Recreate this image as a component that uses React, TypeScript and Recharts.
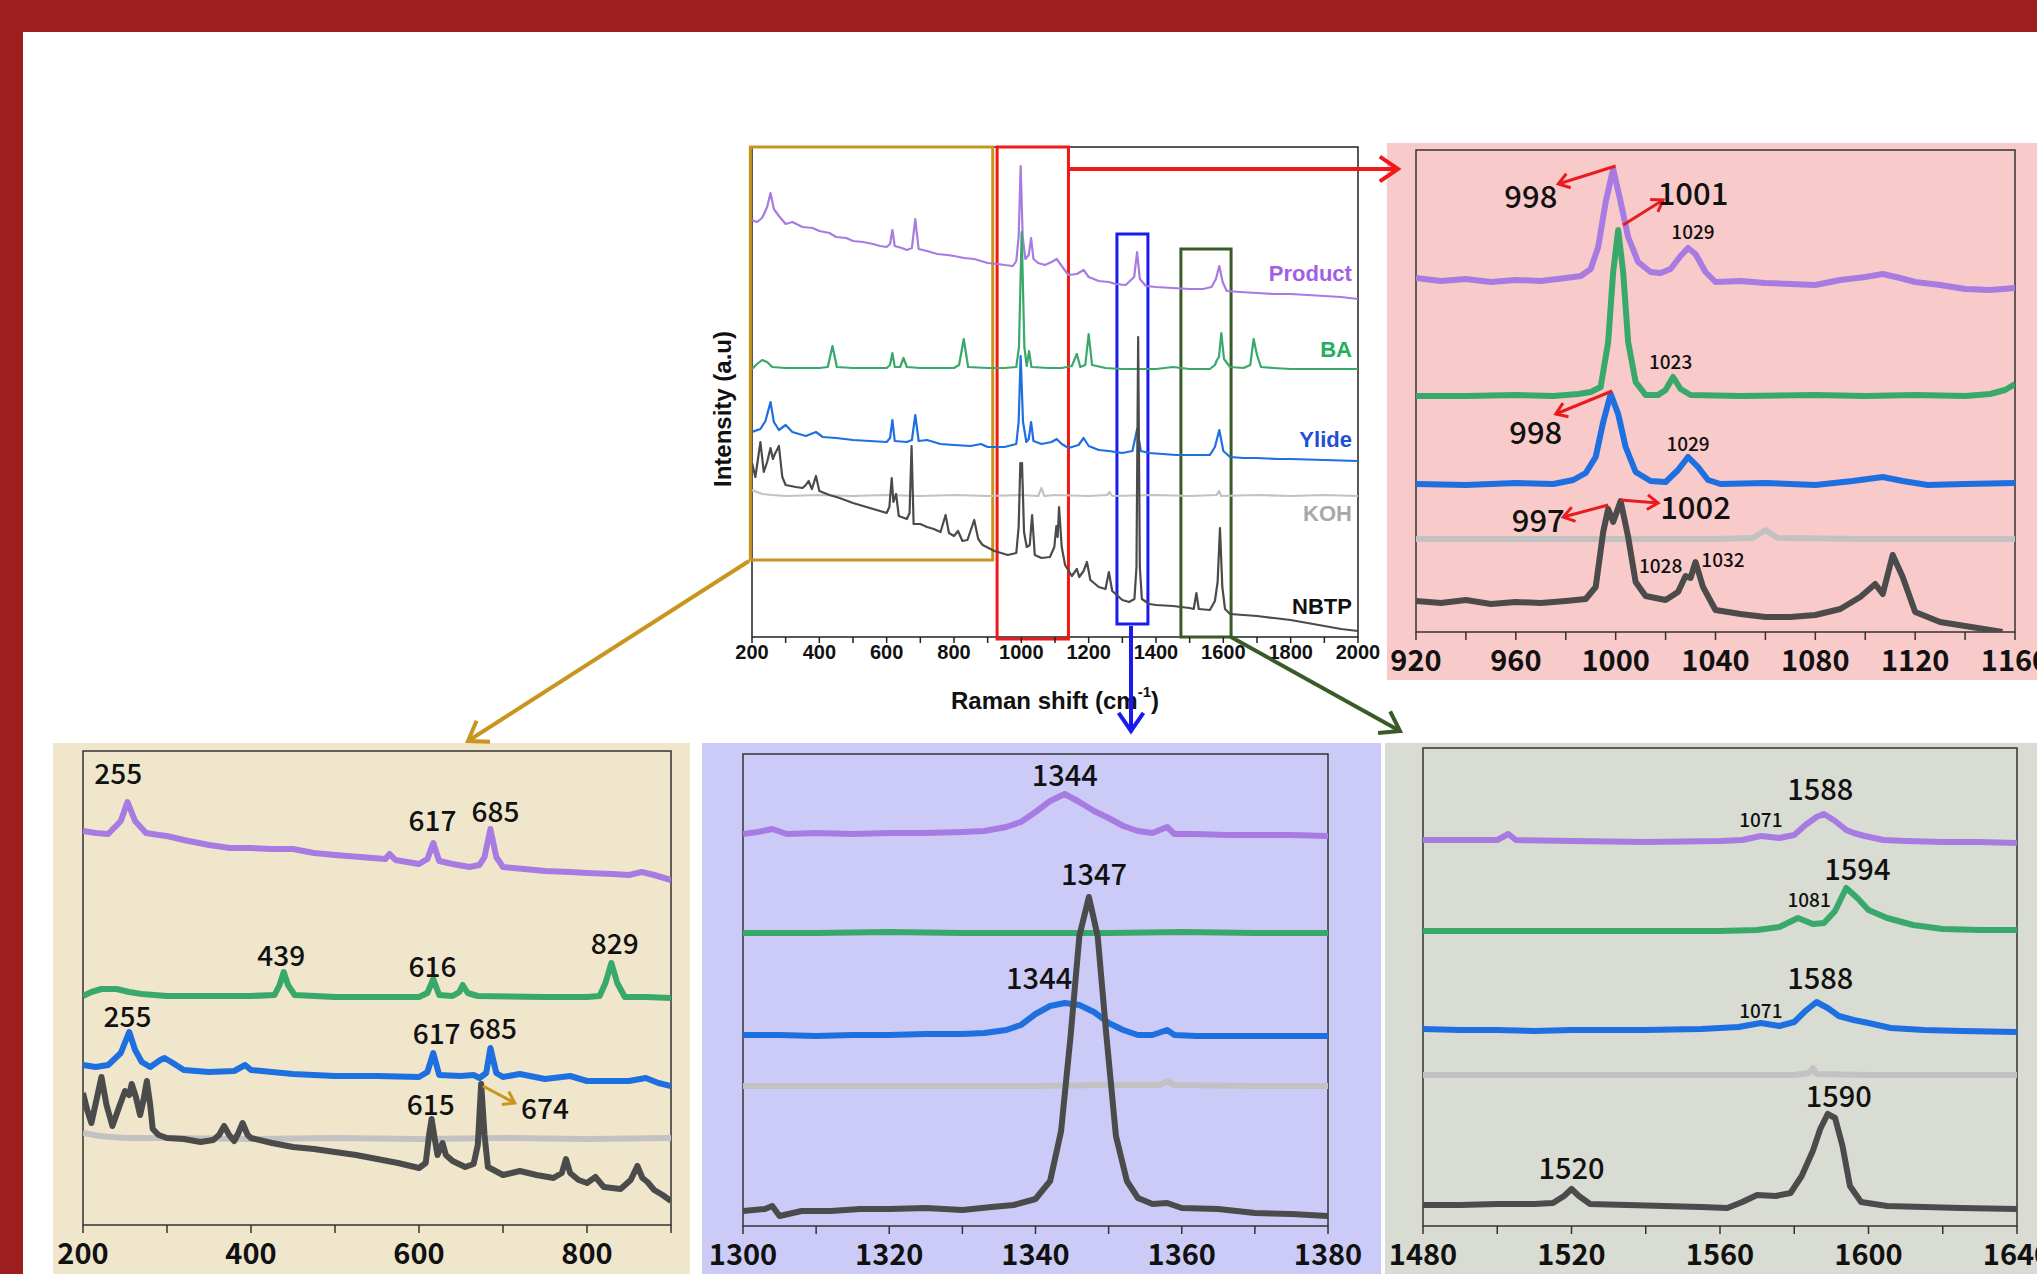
import React from 'react';
import { LineChart, Line, XAxis, YAxis, ReferenceArea, ReferenceDot, ReferenceLine } from 'recharts';

type Pt = [number, number];
type Note = [number, number, string];
type Seg = [Pt, Pt];

// ---- overview spectrum (200-2000 cm-1), intensity in arbitrary units ----
const mainProduct: Pt[] = [[200,417],[215,415],[230,419],[245,430],[255,444],[265,428],[280,421],[300,413],[320,415],[350,410],[380,409],[400,406],[430,404],[450,400],[480,399],[500,396],[530,395],[560,393],[580,391],[600,390],[610,393],[617,407],[624,391],[645,389],[660,387],[675,389],[685,418],[695,388],[720,386],[750,383],[780,382],[800,381],[830,379],[860,378],[880,376],[900,374],[930,373],[950,372],[975,371],[985,376],[992,400],[998,471],[1004,400],[1012,378],[1022,382],[1029,399],[1036,378],[1050,374],[1070,372],[1090,375],[1105,378],[1120,371],[1140,362],[1165,363],[1185,367],[1200,360],[1230,356],[1260,355],[1280,353],[1310,352],[1335,360],[1344,385],[1352,358],[1370,351],[1400,350],[1450,349],[1500,348],[1540,348],[1565,350],[1578,358],[1588,371],[1598,355],[1610,346],[1650,345],[1700,344],[1750,343],[1800,343],[1850,342],[1900,341],[1950,340],[2000,338]];
const mainBA: Pt[] = [[200,268],[215,273],[230,277],[245,275],[260,270],[300,269],[350,269],[400,269],[425,270],[439,291],[452,270],[500,269],[550,269],[600,269],[610,272],[617,284],[624,270],[640,270],[650,279],[660,270],[700,269],[750,269],[800,269],[815,272],[829,298],[842,270],[900,269],[950,269],[985,270],[993,290],[1001,405],[1009,290],[1016,271],[1023,286],[1030,270],[1080,269],[1120,269],[1150,271],[1165,283],[1175,270],[1190,272],[1200,303],[1210,272],[1250,269],[1300,268],[1350,268],[1400,268],[1450,270],[1500,268],[1560,268],[1575,272],[1581,277],[1587,280],[1594,304],[1602,278],[1620,270],[1660,269],[1680,272],[1690,298],[1700,282],[1712,270],[1750,269],[1800,268],[1900,268],[2000,268]];
const mainYlide: Pt[] = [[200,205],[225,208],[240,216],[255,235],[265,215],[280,207],[300,212],[320,205],[360,201],[390,205],[410,200],[450,199],[500,197],[550,196],[600,195],[610,199],[617,217],[624,196],[660,195],[675,197],[685,222],[695,196],[720,197],[760,193],[800,192],[850,191],[880,193],[900,190],[950,190],[985,193],[992,215],[998,281],[1005,215],[1015,195],[1022,198],[1029,215],[1036,196],[1060,193],[1090,195],[1105,198],[1120,193],[1140,189],[1170,192],[1185,199],[1200,191],[1230,187],[1260,186],[1300,184],[1330,186],[1344,208],[1355,186],[1380,184],[1420,183],[1460,182],[1500,182],[1560,182],[1575,190],[1588,207],[1600,186],[1620,180],[1660,179],[1700,179],[1760,178],[1800,178],[1900,177],[2000,176]];
const mainKOH: Pt[] = [[200,147],[230,143],[260,142],[300,141],[400,142],[500,141],[600,142],[700,141],[800,142],[900,141],[1000,142],[1050,141],[1060,149],[1068,141],[1100,142],[1200,141],[1255,142],[1262,145],[1270,141],[1400,142],[1500,141],[1580,142],[1587,146],[1594,141],[1700,142],[1800,141],[1900,142],[2000,141]];
const mainNBTP: Pt[] = [[200,174],[210,160],[225,195],[235,165],[245,175],[255,189],[262,178],[268,183],[280,191],[290,160],[300,152],[330,150],[350,149],[360,152],[368,156],[378,148],[390,161],[400,146],[430,142],[460,139],[500,134],[530,131],[560,128],[600,124],[608,130],[615,159],[620,135],[628,143],[636,121],[660,118],[668,124],[674,191],[680,113],[700,113],[720,110],[740,108],[760,105],[775,122],[785,104],[800,101],[812,106],[825,96],[840,97],[860,117],[872,98],[885,92],[920,86],[960,82],[985,84],[992,110],[997,174],[1000,160],[1002,174],[1008,105],[1016,90],[1025,92],[1032,122],[1040,82],[1060,79],[1085,80],[1098,90],[1104,111],[1108,100],[1112,130],[1120,90],[1130,72],[1150,61],[1165,68],[1172,60],[1185,66],[1195,75],[1205,57],[1230,50],[1250,48],[1260,65],[1270,46],[1300,37],[1320,35],[1336,38],[1342,70],[1347,300],[1352,70],[1358,38],[1380,33],[1400,32],[1450,31],[1500,29],[1512,28],[1520,44],[1527,28],[1560,27],[1575,36],[1583,55],[1590,109],[1597,50],[1605,28],[1620,23],[1660,22],[1700,21],[1750,19],[1800,17],[1850,14],[1900,11],[1950,8],[2000,6]];
const mainNames = ['Product', 'BA', 'Ylide', 'KOH', 'NBTP'];
const mainNameY = [364, 288, 198, 124, 31];
const mainTicks = [200,300,400,500,600,700,800,900,1000,1100,1200,1300,1400,1500,1600,1700,1800,1900,2000];

// zoom windows marked on the overview: [x1, x2, y1, y2]
const zoomBoxes: [number, number, number, number, string][] = [
  [195, 915, 77, 490, '#c8961e'],
  [928, 1140, -2, 490, '#f01818'],
  [1284, 1376, 13, 403, '#1a1af0'],
  [1474, 1623, 0, 388, '#3a5a28'],
];

// ---- 920-1160 window ----
const w1Product: Pt[] = [[920,354],[930,351],[940,353],[950,350],[960,352],[970,351],[980,354],[986,356],[990,363],[993,385],[996,430],[999,463],[1002,430],[1005,395],[1009,370],[1014,360],[1018,359],[1022,363],[1026,376],[1029,384],[1032,378],[1036,360],[1040,350],[1050,351],[1060,349],[1070,348],[1080,347],[1090,352],[1100,355],[1107,358],[1114,354],[1120,350],[1130,347],[1140,343],[1150,342],[1160,344]];
const w1BA: Pt[] = [[920,236],[940,236],[960,237],[975,236],[985,238],[990,240],[994,245],[997,290],[999,360],[1001,402],[1003,360],[1005,290],[1008,250],[1012,237],[1017,237],[1020,242],[1023,255],[1026,243],[1030,237],[1050,236],[1080,237],[1100,236],[1120,237],[1140,236],[1150,238],[1156,242],[1160,248]];
const w1Ylide: Pt[] = [[920,148],[940,147],[960,149],[975,148],[983,152],[988,159],[992,175],[995,210],[998,238],[1001,218],[1004,185],[1008,160],[1014,151],[1020,150],[1025,162],[1029,175],[1033,165],[1037,152],[1042,148],[1060,149],[1080,147],[1095,151],[1107,155],[1115,151],[1125,147],[1140,148],[1160,149]];
const w1KOH: Pt[] = [[920,93],[960,93],[1000,93],[1040,93],[1055,94],[1060,102],[1065,94],[1100,93],[1160,93]];
const w1NBTP: Pt[] = [[920,31],[930,29],[940,32],[950,28],[960,30],[970,29],[980,31],[988,33],[992,45],[995,100],[997,123],[999,110],[1002,131],[1005,95],[1008,50],[1012,36],[1020,32],[1025,40],[1028,56],[1030,54],[1032,70],[1035,45],[1040,22],[1050,18],[1060,15],[1070,15],[1080,17],[1090,23],[1098,35],[1104,48],[1107,38],[1111,77],[1115,55],[1120,20],[1130,10],[1140,6],[1150,2],[1155,0]];
const w1Big: Note[] = [[966,438,'998'],[1031,441,'1001'],[968,202,'998'],[969,114,'997'],[1032,127,'1002']];
const w1Small: Note[] = [[1031,402,'1029'],[1022,272,'1023'],[1029,190,'1029'],[1018,68,'1028'],[1043,74,'1032']];
const w1Arrows: Seg[] = [[[1000,466],[977,448]],[[1003,407],[1019,432]],[[998.6,241],[976,218]],[[997,127],[979,115]],[[1002,132],[1017,129]]];
const w1Ticks = [920,940,960,980,1000,1020,1040,1060,1080,1100,1120,1140,1160];

// ---- 200-900 window ----
const w2Product: Pt[] = [[200,394],[215,392],[230,391],[245,404],[253,423],[262,404],[275,392],[290,390],[300,389],[320,385],[350,380],[375,377],[400,377],[425,376],[450,376],[475,372],[500,370],[530,368],[560,366],[565,371],[572,365],[600,361],[610,366],[617,382],[624,364],[640,361],[660,358],[672,360],[678,368],[685,396],[692,368],[700,358],[725,356],[750,354],[780,353],[800,352],[830,351],[850,350],[865,353],[880,350],[900,345]];
const w2BA: Pt[] = [[200,229],[210,233],[222,236],[240,236],[255,233],[270,231],[300,229],[350,229],[400,229],[428,230],[434,240],[439,253],[444,240],[452,230],[500,228],[550,228],[600,228],[610,232],[617,246],[624,230],[640,229],[648,233],[652,240],[658,232],[670,229],[750,228],[800,228],[815,229],[822,242],[829,262],[836,242],[845,228],[870,228],[900,227]];
const w2Ylide: Pt[] = [[200,160],[215,158],[230,160],[245,172],[255,193],[262,175],[270,163],[280,158],[292,165],[297,167],[305,163],[320,155],[350,153],[380,154],[393,160],[400,155],[450,151],[500,149],[550,149],[600,148],[610,153],[617,172],[624,150],[650,149],[665,150],[672,147],[680,152],[685,177],[692,152],[700,148],[720,151],[750,146],[780,149],[800,144],[850,144],[870,147],[885,142],[900,139]];
const w2KOH: Pt[] = [[200,92],[220,89],[250,87],[300,87],[400,86],[500,87],[600,86],[700,87],[800,86],[900,87]];
const w2NBTP: Pt[] = [[200,132],[205,115],[210,102],[216,125],[222,148],[228,120],[235,99],[243,118],[250,134],[255,130],[258,141],[263,128],[268,110],[272,125],[276,144],[280,120],[283,96],[290,90],[300,87],[320,86],[340,83],[355,85],[362,90],[368,99],[374,90],[380,84],[385,92],[390,102],[396,90],[400,87],[425,82],[450,78],[475,76],[500,73],[525,70],[550,66],[575,62],[600,57],[608,62],[612,90],[615,106],[618,90],[622,70],[626,78],[628,82],[632,70],[640,64],[655,58],[665,61],[670,80],[674,141],[678,90],[682,58],[700,50],[720,54],[740,50],[760,47],[770,52],[775,66],[780,52],[790,45],[800,42],[810,48],[820,38],[840,36],[852,45],[860,59],[866,47],[872,43],[880,35],[890,30],[900,24]];
const w2Big: Note[] = [[242,453,'255'],[616,406,'617'],[691,415,'685'],[436,271,'439'],[616,260,'616'],[833,283,'829'],[253,210,'255'],[621,193,'617'],[688,198,'685'],[614,122,'615'],[750,118,'674']];
const w2Arrows: Seg[] = [[[676,139],[714,122]]];
const w2Ticks = [200,300,400,500,600,700,800,900];

// ---- 1300-1380 window ----
const w3Product: Pt[] = [[1300,392],[1302,394],[1304,397],[1306,392],[1310,393],[1315,392],[1320,393],[1325,393],[1330,394],[1333,395],[1336,399],[1338,404],[1340,414],[1342,425],[1344,432],[1346,424],[1348,415],[1350,408],[1352,400],[1354,395],[1356,393],[1358,399],[1359,392],[1362,392],[1366,391],[1370,391],[1375,391],[1380,390]];
const w3BA: Pt[] = [[1300,293],[1310,293],[1320,294],[1330,293],[1340,293],[1350,293],[1360,294],[1370,293],[1380,293]];
const w3Ylide: Pt[] = [[1300,191],[1305,191],[1310,190],[1315,191],[1320,191],[1325,192],[1330,192],[1333,193],[1336,196],[1338,201],[1340,212],[1342,220],[1344,223],[1346,221],[1348,214],[1350,203],[1352,196],[1354,191],[1356,191],[1358,196],[1359,191],[1362,190],[1370,190],[1375,190],[1380,190]];
const w3KOH: Pt[] = [[1300,140],[1320,140],[1340,140],[1350,141],[1357,141],[1358,145],[1359,141],[1370,140],[1380,140]];
const w3NBTP: Pt[] = [[1300,15],[1303,17],[1304,20],[1305,10],[1308,15],[1312,15],[1316,17],[1320,17],[1325,18],[1330,16],[1334,19],[1337,21],[1340,27],[1342,45],[1343.5,95],[1344.8,190],[1346,290],[1347.3,329],[1348.5,290],[1349.7,190],[1351,90],[1352.5,45],[1354,28],[1356,22],[1358,23],[1360,18],[1365,17],[1370,13],[1375,12],[1380,10]];
const w3Big: Note[] = [[1344,453,'1344'],[1348,354,'1347'],[1340.5,250,'1344']];
const w3Ticks = [1300,1310,1320,1330,1340,1350,1360,1370,1380];

// ---- 1480-1640 window ----
const w4Product: Pt[] = [[1480,386],[1490,386],[1500,386],[1503,392],[1505,386],[1520,385],[1540,384],[1560,385],[1566,386],[1571,390],[1576,388],[1580,391],[1583,401],[1586,409],[1588,412],[1591,405],[1594,396],[1596,393],[1599,390],[1604,386],[1610,385],[1620,384],[1630,384],[1640,383]];
const w4BA: Pt[] = [[1480,295],[1500,295],[1520,295],[1540,295],[1560,295],[1570,296],[1576,299],[1581,308],[1585,302],[1588,303],[1591,315],[1594,338],[1597,328],[1600,316],[1605,308],[1612,301],[1620,297],[1630,296],[1640,296]];
const w4Ylide: Pt[] = [[1480,197],[1490,196],[1500,196],[1510,195],[1520,196],[1540,196],[1555,197],[1565,199],[1571,203],[1576,200],[1580,204],[1583,215],[1586,224],[1589,218],[1592,210],[1596,206],[1600,203],[1606,198],[1615,196],[1625,195],[1640,194]];
const w4KOH: Pt[] = [[1480,151],[1500,151],[1520,151],[1540,151],[1560,151],[1580,151],[1584,153],[1585,158],[1586,152],[1600,151],[1620,151],[1640,151]];
const w4NBTP: Pt[] = [[1480,21],[1490,21],[1500,22],[1510,22],[1515,23],[1518,30],[1520,37],[1522,30],[1525,22],[1535,21],[1545,20],[1555,19],[1562,18],[1566,24],[1570,31],[1575,30],[1579,33],[1582,50],[1585,75],[1587,97],[1589,112],[1591,108],[1593,80],[1595,40],[1598,24],[1605,20],[1615,19],[1625,18],[1640,17]];
const w4Big: Note[] = [[1587,439,'1588'],[1597,359,'1594'],[1587,250,'1588'],[1592,132,'1590'],[1520,60,'1520']];
const w4Small: Note[] = [[1571,408,'1071'],[1584,328,'1081'],[1571,217,'1071']];
const w4Ticks = [1480,1500,1520,1540,1560,1580,1600,1620,1640];

const COLORS = ['#a77be2', '#38a96a', '#1e6fe0', '#c2c2c2', '#4b4b4b'];
const LABEL_COLORS = ['#a45ee5', '#22b060', '#1f4fd6', '#a8a8a8', '#111111'];
const ARIAL = '"Liberation Sans", Arial, sans-serif';
const KR = '"Noto Sans CJK KR", "Noto Sans", sans-serif';

const rows = (pts: Pt[]) => pts.map(([x, y]) => ({ x, y }));

const textShape = (t: string, size: number, weight: number, family: string, fill = '#111', anchor = 'middle') => (p: any) => (
  <text x={p.cx} y={p.cy} textAnchor={anchor} dominantBaseline="central" fontSize={size} fontWeight={weight} fontFamily={family} fill={fill}>{t}</text>
);

const arrowShape = (color: string, w: number, head: number) => (p: any) => {
  const { x1, y1, x2, y2 } = p;
  const a = Math.atan2(y2 - y1, x2 - x1);
  const h1 = `${x2 - head * Math.cos(a - 0.6)},${y2 - head * Math.sin(a - 0.6)}`;
  const h2 = `${x2 - head * Math.cos(a + 0.6)},${y2 - head * Math.sin(a + 0.6)}`;
  return (
    <g>
      <line x1={x1} y1={y1} x2={x2} y2={y2} stroke={color} strokeWidth={w} />
      <polyline points={`${h1} ${x2},${y2} ${h2}`} fill="none" stroke={color} strokeWidth={w} strokeLinejoin="miter" />
    </g>
  );
};

interface WinProps {
  left: number; top: number; width: number; height: number; bg: string;
  plot: [number, number, number, number]; // page coords l, t, r, b
  xDomain: [number, number]; ticks: number[]; major: number;
  series: Pt[][]; big: Note[]; small?: Note[]; arrows?: Seg[]; arrowColor?: string;
  bigSize: number; smallSize?: number;
}

function ZoomWindow(p: WinProps) {
  const [pl, pt, pr, pb] = p.plot;
  const yMax = pb - pt;
  const axisH = 45;
  const margin = { left: pl - p.left, top: pt - p.top, right: p.left + p.width - pr, bottom: p.top + p.height - pb - axisH };
  return (
    <div style={{ position: 'absolute', left: p.left, top: p.top, width: p.width, height: p.height, background: p.bg }}>
      <LineChart width={p.width} height={p.height} margin={margin}>
        <XAxis dataKey="x" type="number" domain={p.xDomain} ticks={p.ticks} interval={0} allowDataOverflow
          height={axisH} tickSize={8} tickMargin={10} axisLine={false}
          tickLine={{ stroke: '#333', strokeWidth: 1.5 }}
          tickFormatter={(v: number) => ((v - p.xDomain[0]) % p.major === 0 ? String(v) : '')}
          tick={{ fill: '#111', fontSize: 29, fontWeight: 700, fontFamily: KR }} />
        <YAxis type="number" domain={[0, yMax]} hide allowDataOverflow />
        {p.series.map((s, i) => (
          <Line key={i} data={rows(s)} dataKey="y" type="linear" stroke={COLORS[i]} strokeWidth={6}
            strokeLinejoin="round" dot={false} activeDot={false} isAnimationActive={false} />
        ))}
        <ReferenceArea x1={p.xDomain[0]} x2={p.xDomain[1]} y1={0} y2={yMax} fill="none" stroke="#333" strokeWidth={1.5} ifOverflow="visible" />
        {(p.arrows || []).map((a, i) => (
          <ReferenceLine key={'a' + i} segment={[{ x: a[0][0], y: a[0][1] }, { x: a[1][0], y: a[1][1] }]} ifOverflow="visible"
            shape={arrowShape(p.arrowColor || '#e81c1c', 3, 13)} />
        ))}
        {p.big.map((n, i) => (
          <ReferenceDot key={'b' + i} x={n[0]} y={n[1]} r={1} ifOverflow="visible" shape={textShape(n[2], p.bigSize, 500, KR)} />
        ))}
        {(p.small || []).map((n, i) => (
          <ReferenceDot key={'s' + i} x={n[0]} y={n[1]} r={1} ifOverflow="visible" shape={textShape(n[2], p.smallSize || 19, 500, KR)} />
        ))}
      </LineChart>
    </div>
  );
}

function Overview() {
  const left = 690, top = 120, width = 700, height = 600;
  const series = [mainProduct, mainBA, mainYlide, mainKOH, mainNBTP];
  return (
    <div style={{ position: 'absolute', left, top, width, height }}>
      <LineChart width={width} height={height} margin={{ left: 2, top: 27, right: 32, bottom: 13 }}>
        <XAxis dataKey="x" type="number" domain={[200, 2000]} ticks={mainTicks} interval={0} allowDataOverflow
          height={70} tickSize={6} tickMargin={2} axisLine={false}
          tickLine={{ stroke: '#222', strokeWidth: 1.5 }}
          tickFormatter={(v: number) => (v % 200 === 0 ? String(v) : '')}
          tick={{ fill: '#111', fontSize: 20, fontWeight: 700, fontFamily: ARIAL }}
          label={{
            content: (lp: any) => {
              const vb = lp.viewBox;
              return (
                <text x={vb.x + vb.width / 2} y={vb.y + 63} textAnchor="middle" dominantBaseline="central"
                  fontSize={24} fontWeight={700} fontFamily={ARIAL} fill="#111">
                  Raman shift (cm<tspan dy={-9} fontSize={15}>-1</tspan><tspan dy={9} fontSize={24}>)</tspan>
                </text>
              );
            },
          }} />
        <YAxis type="number" domain={[0, 490]} width={60} tick={false} tickLine={false} axisLine={false} allowDataOverflow
          label={{
            content: (lp: any) => {
              const vb = lp.viewBox;
              const cx = vb.x + vb.width / 2;
              const cy = vb.y + vb.height / 2 + 17;
              return (
                <text x={cx} y={cy} transform={`rotate(-90 ${cx} ${cy})`} textAnchor="middle" dominantBaseline="central"
                  fontSize={24} fontWeight={700} fontFamily={ARIAL} fill="#111">Intensity (a.u)</text>
              );
            },
          }} />
        {series.map((s, i) => (
          <Line key={i} data={rows(s)} dataKey="y" type="linear" stroke={COLORS[i]} strokeWidth={2.2}
            strokeLinejoin="round" dot={false} activeDot={false} isAnimationActive={false} />
        ))}
        <ReferenceArea x1={200} x2={2000} y1={0} y2={490} fill="none" stroke="#222" strokeWidth={1.5} ifOverflow="visible" />
        {zoomBoxes.map((b, i) => (
          <ReferenceArea key={'z' + i} x1={b[0]} x2={b[1]} y1={b[2]} y2={b[3]} fill="none" stroke={b[4]} strokeWidth={3} ifOverflow="visible" />
        ))}
        {mainNames.map((n, i) => (
          <ReferenceDot key={'n' + i} x={1982} y={mainNameY[i]} r={1} ifOverflow="visible"
            shape={textShape(n, 22, 700, ARIAL, LABEL_COLORS[i], 'end')} />
        ))}
      </LineChart>
    </div>
  );
}

function PageArrow({ from, to, color }: { from: Pt; to: Pt; color: string }) {
  return arrowShape(color, 4, 22)({ x1: from[0], y1: from[1], x2: to[0], y2: to[1] });
}

export default function App() {
  return (
    <div style={{ position: 'absolute', left: 0, top: 0, width: 2037, height: 1274, background: '#fff', overflow: 'hidden' }}>
      <div style={{ position: 'absolute', left: 0, top: 0, width: 2037, height: 32, background: '#9c1e1e' }} />
      <div style={{ position: 'absolute', left: 0, top: 0, width: 23, height: 1274, background: '#9c1e1e' }} />
      <Overview />
      <ZoomWindow left={1387} top={143} width={650} height={537} bg="#f9caca" plot={[1416, 150, 2015, 632]}
        xDomain={[920, 1160]} ticks={w1Ticks} major={40} series={[w1Product, w1BA, w1Ylide, w1KOH, w1NBTP]}
        big={w1Big} small={w1Small} arrows={w1Arrows} bigSize={31} smallSize={19} />
      <ZoomWindow left={53} top={743} width={637} height={531} bg="#f0e6cc" plot={[83, 751, 671, 1225]}
        xDomain={[200, 900]} ticks={w2Ticks} major={200} series={[w2Product, w2BA, w2Ylide, w2KOH, w2NBTP]}
        big={w2Big} arrows={w2Arrows} arrowColor="#c8961e" bigSize={28} />
      <ZoomWindow left={702} top={743} width={679} height={531} bg="#cccbf8" plot={[743, 754, 1328, 1226]}
        xDomain={[1300, 1380]} ticks={w3Ticks} major={20} series={[w3Product, w3BA, w3Ylide, w3KOH, w3NBTP]}
        big={w3Big} bigSize={29} />
      <ZoomWindow left={1385} top={743} width={652} height={531} bg="#d8dcd3" plot={[1423, 748, 2017, 1226]}
        xDomain={[1480, 1640]} ticks={w4Ticks} major={40} series={[w4Product, w4BA, w4Ylide, w4KOH, w4NBTP]}
        big={w4Big} small={w4Small} bigSize={29} smallSize={19} />
      <svg width={2037} height={1274} style={{ position: 'absolute', left: 0, top: 0, pointerEvents: 'none' }}>
        <PageArrow from={[1068, 169]} to={[1398, 169]} color="#f01818" />
        <PageArrow from={[749, 561]} to={[468, 741]} color="#c8961e" />
        <PageArrow from={[1131, 626]} to={[1131, 731]} color="#1a1af0" />
        <PageArrow from={[1231, 637]} to={[1400, 731]} color="#3a5a28" />
      </svg>
    </div>
  );
}
